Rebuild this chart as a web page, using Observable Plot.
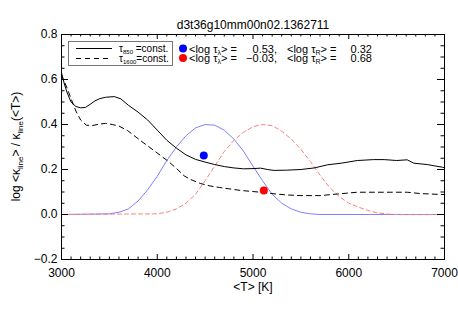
<!DOCTYPE html>
<html><head><meta charset="utf-8">
<script src="https://cdn.jsdelivr.net/npm/d3@7"></script>
<script src="https://cdn.jsdelivr.net/npm/@observablehq/plot@0.6"></script>
<style>body{margin:0;background:#fff} svg{display:block}</style>
</head><body><div id="chart"></div>
<script>
const title = "d3t36g10mm00n02.1362711";
const xLabel = "<T> [K]";
const xTicks = [3000, 4000, 5000, 6000, 7000];
const yTicks = [-0.2, 0.0, 0.2, 0.4, 0.6, 0.8];

// tau_850 = const. (solid black)
const solidT = [3000,3030,3060,3100,3150,3200,3250,3300,3350,3400,3460,3550,3620,3700,3800,3900,4000,4100,4200,4300,4400,4500,4600,4700,4800,4900,5000,5080,5150,5220,5350,5500,5640,5780,5920,6090,6260,6370,6500,6610,6680,6820,6980,7000];
const solidV = [0.63,0.58,0.54,0.50,0.48,0.474,0.476,0.49,0.505,0.515,0.521,0.524,0.514,0.485,0.455,0.42,0.375,0.33,0.295,0.265,0.245,0.233,0.222,0.213,0.207,0.203,0.204,0.206,0.200,0.196,0.197,0.200,0.207,0.221,0.228,0.240,0.244,0.244,0.240,0.243,0.228,0.222,0.210,0.208];

// tau_1600 = const. (dashed black)
const dashT = [3000,3025,3060,3095,3150,3200,3260,3320,3400,3460,3530,3600,3690,3760,3830,3900,3970,4050,4110,4200,4280,4350,4450,4550,4650,4750,4870,5000,5080,5220,5350,5500,5700,5880,6090,6370,6610,6750,6960,7000];
const dashV = [0.62,0.595,0.56,0.52,0.46,0.42,0.397,0.395,0.402,0.405,0.400,0.393,0.373,0.35,0.327,0.305,0.283,0.257,0.238,0.205,0.172,0.155,0.138,0.127,0.120,0.114,0.107,0.102,0.099,0.092,0.087,0.084,0.084,0.091,0.099,0.099,0.099,0.093,0.089,0.089];

// contribution curves
const blueT = [3000,3500,3600,3700,3800,3900,4000,4100,4200,4300,4400,4500,4600,4700,4800,4900,5000,5100,5200,5300,5400,5500,5600,5700,7000];
const blueV = [0,0.003,0.01,0.025,0.06,0.11,0.17,0.24,0.30,0.35,0.385,0.40,0.397,0.375,0.335,0.282,0.215,0.15,0.09,0.05,0.025,0.01,0.003,0,0];
const redT = [3000,4000,4100,4200,4300,4400,4500,4600,4700,4800,4900,5000,5100,5200,5300,5400,5500,5600,5700,5800,5900,6000,6100,6200,6300,6400,6500,7000];
const redV = [0,0.003,0.01,0.025,0.05,0.09,0.15,0.215,0.28,0.33,0.365,0.39,0.40,0.395,0.37,0.335,0.29,0.235,0.175,0.12,0.08,0.05,0.033,0.018,0.007,0.002,0,0];

// mean points
const dotT = [4486, 5113];
const dotV = [0.262, 0.107];
const dotC = ["#0000ff", "#ff0000"];

// legend values
const tauLambda = ["0.53,", "\u22120.03,"];
const tauR = ["0.32", "0.68"];

const zip = (a, b) => a.map((t, i) => ({T: t, v: b[i]}));
const xMinor = d3.range(3000, 7001, 100).filter(d => !xTicks.includes(d));
const yMinor = d3.range(-0.2, 0.801, 0.05).map(d => +d.toFixed(2)).filter(d => !yTicks.some(t => Math.abs(t - d) < 1e-6));

const W = 458, H = 309, mL = 61, mR = 14, mT = 34, mB = 50;
const pw = W - mL - mR, ph = H - mT - mB;
const font = "'Liberation Sans', Arial, Helvetica, sans-serif";

const plot = Plot.plot({
  width: W, height: H,
  marginLeft: mL, marginRight: mR, marginTop: mT, marginBottom: mB,
  style: {fontFamily: font, fontSize: "12px", background: "#fff", color: "#000"},
  x: {domain: [3000, 7000]},
  y: {domain: [-0.2, 0.8]},
  marks: [
    Plot.line(zip(blueT, blueV), {x: "T", y: "v", stroke: "#7f7fff", strokeWidth: 1}),
    Plot.line(zip(redT, redV), {x: "T", y: "v", stroke: "#ff7f7f", strokeWidth: 1, strokeDasharray: "4,3"}),
    Plot.line(zip(solidT, solidV), {x: "T", y: "v", stroke: "#000", strokeWidth: 1}),
    Plot.line(zip(dashT, dashV), {x: "T", y: "v", stroke: "#000", strokeWidth: 1, strokeDasharray: "5,4"}),
    Plot.dot(dotT.map((t, i) => ({T: t, v: dotV[i], c: dotC[i]})), {x: "T", y: "v", fill: "c", r: 4, stroke: null}),
    Plot.frame({stroke: "#000"}),
    Plot.ruleX(xTicks, {x: d => d, insetTop: ph - 5, stroke: "#000"}),
    Plot.ruleX(xTicks, {x: d => d, insetBottom: ph - 5, stroke: "#000"}),
    Plot.ruleX(xMinor, {x: d => d, insetTop: ph - 2.5, stroke: "#000"}),
    Plot.ruleX(xMinor, {x: d => d, insetBottom: ph - 2.5, stroke: "#000"}),
    Plot.ruleY(yTicks, {y: d => d, insetRight: pw - 7, stroke: "#000"}),
    Plot.ruleY(yTicks, {y: d => d, insetLeft: pw - 7, stroke: "#000"}),
    Plot.ruleY(yMinor, {y: d => d, insetRight: pw - 3.5, stroke: "#000"}),
    Plot.ruleY(yMinor, {y: d => d, insetLeft: pw - 3.5, stroke: "#000"}),
    Plot.axisX({ticks: xTicks, tickSize: 0, tickPadding: 9, tickFormat: d => String(d), label: null, fontSize: 12}),
    Plot.axisY({ticks: yTicks, tickSize: 0, tickPadding: 4, tickFormat: d3.format(".1f"), label: null, fontSize: 12}),
    Plot.text([title], {frameAnchor: "top", dy: -14, fontSize: 12, text: d => d}),
    Plot.text([xLabel], {frameAnchor: "bottom", dy: 31, fontSize: 12, text: d => d})
  ]
});
document.getElementById("chart").append(plot);

const svg = d3.select(plot);
function rich(g, x, y, parts, size, anchor, subSize, shift) {
  const t = g.append("text").attr("x", x).attr("y", y)
    .attr("font-family", font).attr("font-size", size).attr("fill", "#000")
    .attr("text-anchor", anchor || "start").attr("xml:space", "preserve");
  const sh = shift == null ? 3 : shift;
  let shifted = 0;
  parts.forEach(p => {
    const isSub = Array.isArray(p);
    const s = isSub ? p[0] : p;
    const sp = t.append("tspan").text(s);
    if (isSub) { sp.attr("dy", sh - shifted).attr("font-size", subSize || size * 0.65); shifted = sh; }
    else if (shifted) { sp.attr("dy", -shifted); shifted = 0; }
  });
  return t;
}

// y label
const yl = svg.append("g").attr("transform", `translate(20,${mT + ph / 2}) rotate(-90)`);
rich(yl, 0, 0, ["log <\u03ba", ["line"], "> / \u03ba", ["line"], "(<T>)"], 12, "middle", 8);

// legend box
const lg = svg.append("g");
lg.append("rect").attr("x", 68.5).attr("y", 41.5).attr("width", 104).attr("height", 24)
  .attr("fill", "none").attr("stroke", "#777").attr("stroke-width", 1);
lg.append("line").attr("x1", 76).attr("x2", 112).attr("y1", 48.5).attr("y2", 48.5).attr("stroke", "#000");
lg.append("line").attr("x1", 76).attr("x2", 112).attr("y1", 58.5).attr("y2", 58.5).attr("stroke", "#000").attr("stroke-dasharray", "5,4");
rich(lg, 119, 52, ["\u03c4", ["850"], " =const."], 10, "start", 6, 2);
rich(lg, 119, 62, ["\u03c4", ["1600"], "=const."], 10, "start", 6, 2);

// right legend
[48.5, 58].forEach((yy, i) => {
  lg.append("circle").attr("cx", 183).attr("cy", yy).attr("r", 4).attr("fill", dotC[i]);
  rich(lg, 189, yy + 4, ["<log \u03c4", ["\u03bb"], "> ="], 11, "start", 7, 2);
  rich(lg, 277, yy + 4, [tauLambda[i]], 11, "end");
  rich(lg, 287, yy + 4, ["<log \u03c4", ["R"], "> ="], 11, "start", 7, 2);
  rich(lg, 372, yy + 4, [tauR[i]], 11, "end");
});
</script></body></html>
